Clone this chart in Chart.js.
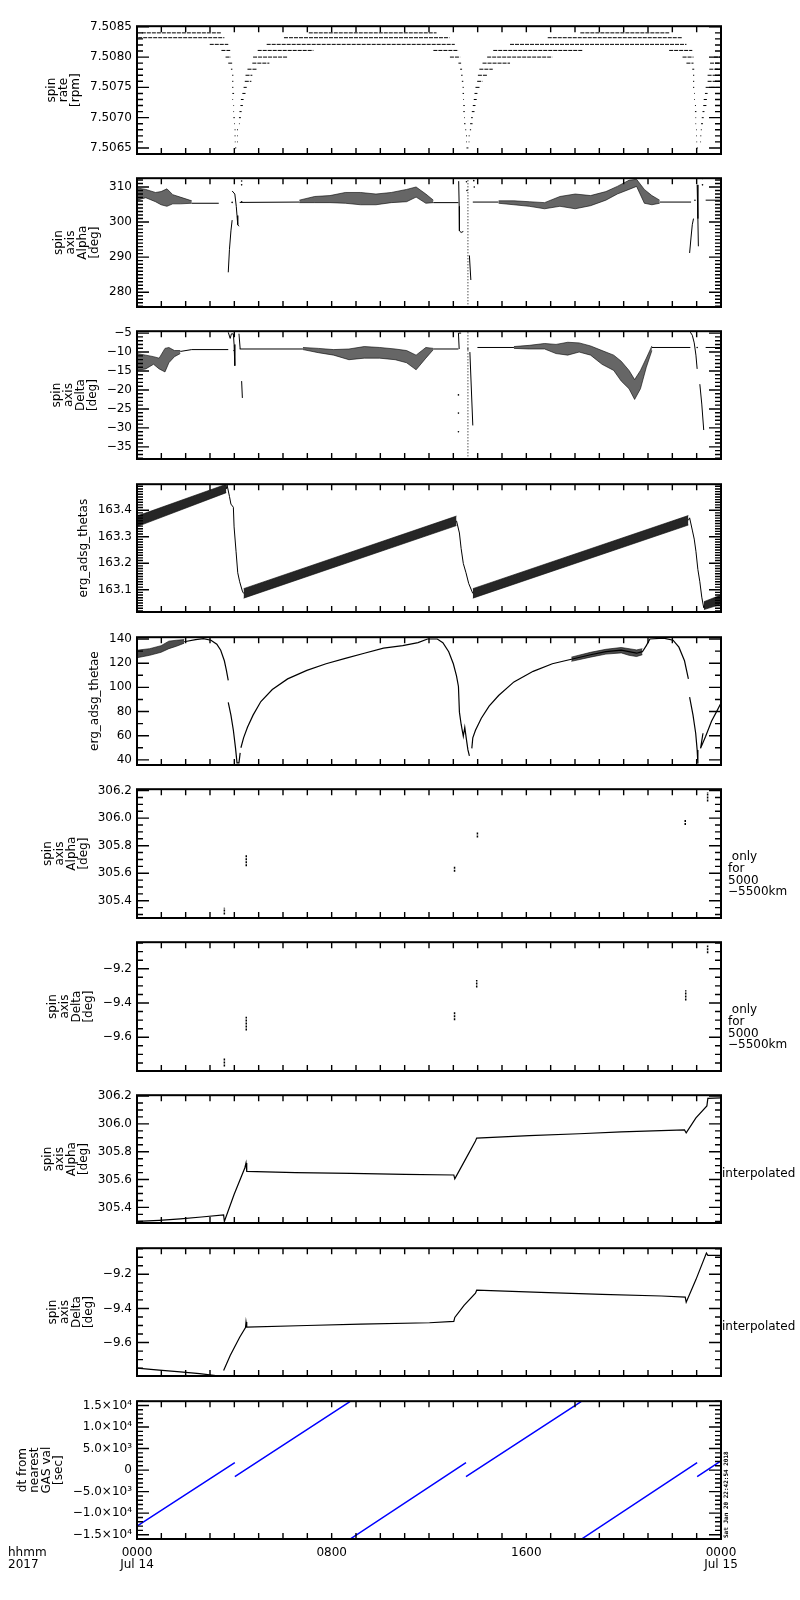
<!DOCTYPE html>
<html><head><meta charset="utf-8">
<script src="https://cdn.jsdelivr.net/npm/chart.js@4.4.1/dist/chart.umd.min.js"></script>
<style>
html,body{margin:0;padding:0;background:#fff;width:800px;height:1600px;overflow:hidden;position:relative;}
canvas{position:absolute;left:0;}
</style></head><body>
<script>
// ---------------- DATA ----------------
const xTickHours = [0, 8, 16, 24];
const xTickLabels = [['0000', 'Jul 14'], '0800', '1600', ['0000', 'Jul 15']];

// Panel 1: spin rate [rpm] (quantised levels: [level, [[startHour, endHour], ...]])
const spinRateTicks = [7.5065, 7.5070, 7.5075, 7.5080, 7.5085];
const spinRateTickLabels = ['7.5065', '7.5070', '7.5075', '7.5080', '7.5085'];
const spinRateSegs = [
  [7.50840, [[0.2, 3.47], [7.06, 12.31], [18.22, 21.87]]],
  [7.50832, [[0.05, 3.59], [6.04, 12.84], [16.88, 22.39]]],
  [7.50821, [[2.99, 3.75], [5.33, 13.06], [15.33, 22.58]]],
  [7.50811, [[3.47, 3.83], [4.96, 7.25], [12.18, 13.21], [14.64, 18.3], [21.87, 22.82]]],
  [7.50800, [[3.64, 3.86], [4.77, 6.19], [12.86, 13.28], [14.39, 17.07], [22.42, 22.87], [23.71, 24]]],
  [7.50790, [[3.75, 3.91], [4.74, 5.44], [13.21, 13.32], [14.2, 15.33], [22.58, 22.87], [23.55, 24]]],
  [7.50780, [[3.86, 3.92], [4.54, 4.93], [13.28, 13.36], [14.07, 14.62], [22.82, 22.9], [23.52, 24]]],
  [7.50770, [[3.91, 3.96], [4.46, 4.74], [13.32, 13.38], [14.01, 14.39], [22.85, 22.9], [23.45, 24]]],
  [7.50760, [[3.91, 3.96], [4.43, 4.70], [13.35, 13.41], [13.98, 14.2], [22.85, 22.9], [23.45, 24]]],
  [7.50750, [[3.91, 3.96], [4.38, 4.51], [13.38, 13.43], [13.91, 14.10], [22.85, 22.9], [23.37, 24]]],
  [7.50740, [[3.92, 3.99], [4.33, 4.46], [13.38, 13.44], [13.87, 13.99], [22.9, 22.93], [23.34, 23.45]]],
  [7.50730, [[3.92, 3.95], [4.27, 4.38], [13.41, 13.44], [13.84, 13.96], [22.9, 22.93], [23.29, 23.42]]],
  [7.50720, [[3.96, 3.99], [4.25, 4.35], [13.41, 13.47], [13.80, 13.91], [22.93, 22.97], [23.27, 23.40]]],
  [7.50710, [[3.96, 3.99], [4.21, 4.30], [13.41, 13.47], [13.76, 13.87], [22.93, 22.99], [23.24, 23.32]]],
  [7.50700, [[3.96, 4.02], [4.19, 4.27], [13.44, 13.47], [13.73, 13.80], [22.95, 22.98], [23.21, 23.29]]],
  [7.50690, [[3.99, 4.02], [4.19, 4.22], [13.44, 13.5], [13.69, 13.79], [22.95, 22.98], [23.18, 23.26]]],
  [7.50680, [[4.01, 4.05], [4.11, 4.15], [13.49, 13.53], [13.68, 13.73], [22.98, 23.01], [23.17, 23.21]]],
  [7.50670, [[4.01, 4.05], [4.11, 4.14], [13.52, 13.56], [13.63, 13.67], [22.98, 23.01], [23.15, 23.19]]],
  [7.50660, [[4.02, 4.05], [4.11, 4.14], [13.53, 13.56], [13.63, 13.66], [22.99, 23.02], [23.15, 23.18]]],
  [7.50650, [[4.03, 4.08], [13.54, 13.62], [23.0, 23.05]]]
];

// Panel 2: spin axis Alpha [deg]
const alphaTicks = [280, 290, 300, 310];
const alphaTickLabels = ['280', '290', '300', '310'];
const alphaLineX = [2.25, 3.36, null, 3.75, 3.80, 3.86, 3.91, null, 3.91, 4.02, 4.08, 4.11, 4.14, 4.19, null,
  4.22, 6.67, null, 12.18, 13.21, null, 13.22, 13.24, 13.25, 13.32, 13.41, null, 13.66, 13.72, null,
  13.80, 14.86, null, 21.48, 22.77, null, 22.71, 22.77, 22.82, 22.87, null, 23.02, 23.05, 23.07, null, 23.37, 24];
const alphaLineY = [305.36, 305.36, null, 285.68, 292.24, 297.49, 300.55, null, 308.86, 307.99, 304.49, 301.86, 299.24, 298.8, null,
  305.6, 305.7, null, 305.54, 305.54, null, 311.66, 304.49, 297.49, 297.05, 297.31, null, 290.49, 283.49, null,
  305.7, 305.7, null, 305.7, 305.7, null, 291.19, 295.74, 299.24, 300.99, null, 310.6, 300.99, 293.1, null, 306.24, 306.24];
const alphaDashX = [13.6, 13.6];
const alphaDashY = [311.9, 276.05];
const alphaDotX = [4.30, 4.30, 4.30, 3.91, 13.54, 13.56, 13.84, 13.86, 22.93, 23.24, 23.24];
const alphaDotY = [311.7, 310.6, 305.8, 305.6, 311.5, 309.0, 311.8, 310.0, 306.2, 312.4, 310.6];
const alphaBandX = [
  [0, 0.36, 0.76, 0.99, 1.23, 1.47, 1.78, 2.25],
  [6.67, 7.30, 7.93, 8.56, 9.19, 9.82, 10.45, 11.08, 11.47, 11.87, 12.18],
  [14.86, 15.49, 16.12, 16.75, 17.38, 18.01, 18.64, 19.27, 19.74, 20.22, 20.53, 20.85, 21.16, 21.48]];
const alphaBandHi = [
  [309.74, 309.30, 308.43, 308.69, 309.48, 307.81, 307.11, 306.06],
  [306.24, 307.29, 307.55, 308.43, 308.43, 307.99, 308.43, 309.3, 310.0, 307.99, 306.24],
  [306.06, 306.06, 305.8, 305.54, 307.29, 307.99, 307.55, 308.69, 310.17, 311.92, 312.19, 309.3, 307.55, 306.24]];
const alphaBandLo = [
  [306.24, 306.94, 305.80, 304.93, 304.49, 305.19, 305.19, 305.36],
  [305.54, 305.54, 305.54, 305.36, 304.93, 304.93, 305.54, 305.80, 307.11, 305.36, 305.54],
  [305.36, 304.93, 304.49, 303.79, 304.49, 303.79, 304.66, 306.24, 307.99, 309.30, 310.17, 305.36, 304.93, 305.36]];

// Panel 3: spin axis Delta [deg]
const deltaTicks = [-35, -30, -25, -20, -15, -10, -5];
const deltaTickLabels = ['\u221235', '\u221230', '\u221225', '\u221220', '\u221215', '\u221210', '\u22125'];
const deltaLineX = [1.78, 2.25, 3.75, null, 3.75, 3.83, 3.88, 3.96, 3.99, 4.02, null, 4.19, 4.24, null, 4.30, 4.33, null,
  4.22, 6.82, null, 12.18, 13.21, null, 13.32, 13.21, 13.24, null, 13.68, 13.80, null, 13.99, 15.49, null,
  21.16, 22.74, null, 22.74, 22.82, 22.90, 22.97, 23.02, null, 23.13, 23.21, 23.29, null, 23.37, 24];
const deltaLineY = [-9.84, -9.35, -9.35, null, -4.8, -6.4, -5.2, -5.2, -8.0, -13.6, null, -5.16, -9.19, null, -17.66, -22.1, null,
  -9.19, -9.19, null, -9.19, -9.19, null, -5.0, -5.0, -9.19, null, -10.0, -29.35, null, -8.79, -8.79, null,
  -8.79, -8.79, null, -4.76, -5.56, -7.58, -10.81, -14.44, null, -18.47, -23.71, -30.56, null, -8.79, -8.79];
const deltaDashX = [13.6, 13.6];
const deltaDashY = [-4.8, -37.8];
const deltaDotX = [3.99, 13.21, 13.21, 13.21, 13.6, 23.02];
const deltaDotY = [-9.6, -21.3, -26.1, -31.0, -9.19, -8.79];
const deltaBandX = [
  [0, 0.36, 0.68, 0.91, 1.15, 1.31, 1.54, 1.78],
  [6.82, 7.45, 8.08, 8.71, 9.34, 9.97, 10.61, 11.08, 11.47, 11.87, 12.18],
  [15.49, 16.12, 16.75, 17.22, 17.70, 18.17, 18.64, 19.11, 19.59, 19.90, 20.22, 20.45, 20.69, 20.93, 21.16]];
const deltaBandHi = [
  [-10.40, -10.81, -11.21, -11.61, -9.03, -8.79, -9.60, -9.60],
  [-8.79, -9.03, -9.35, -9.19, -8.55, -8.79, -9.19, -9.6, -10.81, -8.79, -9.03],
  [-8.55, -8.23, -7.74, -7.98, -7.42, -7.58, -8.39, -9.6, -10.81, -12.42, -14.84, -17.26, -14.84, -11.61, -8.39]];
const deltaBandLo = [
  [-14.84, -14.44, -13.23, -14.44, -15.24, -12.82, -11.21, -10.40],
  [-9.35, -10.16, -10.81, -12.02, -11.61, -11.61, -12.02, -12.82, -14.68, -11.61, -9.35],
  [-9.03, -9.19, -9.19, -10.4, -10.81, -10.0, -10.81, -13.23, -14.84, -17.66, -19.68, -22.5, -19.68, -14.03, -9.6]];

// Panel 4: erg_adsg_thetas
const thetasTicks = [163.1, 163.2, 163.3, 163.4];
const thetasTickLabels = ['163.1', '163.2', '163.3', '163.4'];
const thetasBandX = [[0, 3.67], [4.38, 13.13], [13.8, 22.66], [23.3, 24]];
const thetasBandLo = [[163.338, 163.466], [163.068, 163.342], [163.068, 163.344], [163.025, 163.045]];
const thetasBandHi = [[163.378, 163.498], [163.104, 163.378], [163.104, 163.380], [163.055, 163.080]];
const thetasLineX = [3.67, 3.70, 3.80, 3.86, 3.96, 3.99, 4.07, 4.14, 4.22, 4.33, 4.38, null,
  13.13, 13.25, 13.32, 13.41, 13.52, 13.63, 13.76, 13.80, null,
  22.66, 22.71, 22.82, 22.90, 22.97, 23.05, 23.13, 23.21, 23.29, 23.30];
const thetasLineY = [163.48, 163.495, 163.452, 163.423, 163.411, 163.337, 163.245, 163.164, 163.130, 163.095, 163.086, null,
  163.36, 163.314, 163.256, 163.199, 163.164, 163.124, 163.095, 163.086, null,
  163.362, 163.371, 163.325, 163.291, 163.245, 163.176, 163.130, 163.072, 163.032, 163.04];

// Panel 5: erg_adsg_thetae
const thetaeTicks = [40, 60, 80, 100, 120, 140];
const thetaeTickLabels = ['40', '60', '80', '100', '120', '140'];
const thetaeBandX = [[0, 0.52, 0.99, 1.31, 1.62, 1.94], [17.85, 18.64, 19.27, 19.9, 20.22, 20.53, 20.77]];
const thetaeBandHi = [[130.75, 132, 134.5, 138.25, 139, 139.5], [125, 129, 131.5, 133, 132, 131, 132]];
const thetaeBandLo = [[124.5, 126.5, 129, 132, 134, 136.5], [121.5, 125, 127.5, 128.5, 126.5, 125.5, 127]];
const thetaeLineX = [1.94, 2.41, 2.73, 3.04, 3.28, 3.44, 3.59, 3.67, 3.75, null,
  3.75, 3.86, 3.96, 4.05, 4.11, 4.19, 4.24, null,
  4.27, 4.38, 4.54, 4.77, 5.09, 5.56, 6.19, 6.98, 7.77, 8.56, 9.34, 10.13, 10.92, 11.55, 11.94, 12.34, 12.57, 12.81, 13.0, 13.13, 13.21,
  13.25, 13.32, 13.41, 13.47, 13.53, 13.6, 13.66, null,
  13.76, 13.8, 13.91, 14.15, 14.47, 14.86, 15.49, 16.28, 17.07, 17.85, 18.64, 19.27, 19.9, 20.22, 20.53, 20.77, 20.93, 21.08, 21.64, 22.03, 22.27, 22.5, 22.66, null,
  22.71, 22.85, 22.96, 23.02, 23.05, null, 23.16, 23.26, null, 23.16, 23.37, 23.61, 23.84, 24];
const thetaeLineY = [137.75, 139.5, 140.25, 139, 135.75, 130.75, 122, 114.5, 105.75, null,
  87.5, 77, 64.5, 49.5, 37.5, 37.5, 45.75, null,
  50, 58.25, 67, 77, 88.25, 98.25, 107, 114, 119.5, 124, 128.25, 132.5, 134.5, 137, 140, 140, 137, 129.5, 119.5, 109.5, 100.75,
  79.5, 69.5, 59.5, 67, 58, 48.25, 43.25, null,
  49.5, 58.25, 64.5, 74.5, 84.5, 93.25, 104.5, 113.25, 119.5, 123.25, 127, 129.5, 130.75, 129.5, 128.25, 129.5, 134.5, 140, 140.75, 139, 133.25, 122, 107, null,
  92, 77, 62, 48.25, 37, null, 49.5, 62, null, 49.5, 59.5, 72, 80.75, 87];

// Panel 6: spin axis Alpha, only for 5000-5500 km (vertical clusters)
const alphaDegTicks = [305.4, 305.6, 305.8, 306.0, 306.2];
const alphaDegTickLabels = ['305.4', '305.6', '305.8', '306.0', '306.2'];
const alphaOnlyX = [3.59, 4.49, 13.05, 13.99, 22.53, 23.45];
const alphaOnlyLo = [305.30, 305.65, 305.61, 305.86, 305.95, 306.12];
const alphaOnlyHi = [305.35, 305.73, 305.65, 305.90, 305.99, 306.19];

// Panel 7: spin axis Delta, only for 5000-5500 km
const deltaDegTicks = [-9.6, -9.4, -9.2];
const deltaDegTickLabels = ['\u22129.6', '\u22129.4', '\u22129.2'];
const deltaOnlyX = [3.59, 4.49, 13.05, 13.96, 22.55, 23.45];
const deltaOnlyLo = [-9.77, -9.56, -9.50, -9.31, -9.385, -9.11];
const deltaOnlyHi = [-9.72, -9.48, -9.45, -9.265, -9.325, -9.064];

// Panel 8: spin axis Alpha, interpolated
const alphaInterpX = [0, 0.91, 1.78, 2.65, 3.56, 3.59, 3.99, 4.43, 4.48, 4.51, 6.51, 8.79, 11.0, 13.02, 13.06, 13.52, 13.91, 13.96,
  16.12, 18.17, 19.9, 22.5, 22.57, 22.97, 23.42, 23.46, 24];
const alphaInterpY = [305.299, 305.307, 305.318, 305.331, 305.346, 305.299, 305.493, 305.683, 305.719, 305.659, 305.650, 305.644, 305.637, 305.633, 305.605, 305.752, 305.877, 305.898,
  305.916, 305.929, 305.942, 305.957, 305.935, 306.043, 306.129, 306.183, 306.187];

// Panel 9: spin axis Delta, interpolated
const deltaInterpX = [0, 0.91, 1.78, 2.57, 3.32, null, 3.56, 3.83, 4.22, 4.46, 4.48, 4.51, 6.98, 9.19, 12.02, 13.02, 13.06, 13.44, 13.91, 13.96,
  16.59, 19.11, 21.56, 22.53, 22.57, 22.97, 23.40, 23.46, 24];
const deltaInterpY = [-9.750, -9.761, -9.772, -9.782, -9.795, null, -9.764, -9.676, -9.569, -9.512, -9.48, -9.510, -9.50, -9.492, -9.484, -9.476, -9.453, -9.382, -9.311, -9.293,
  -9.306, -9.318, -9.327, -9.334, -9.364, -9.231, -9.075, -9.089, -9.089];

// Panel 10: dt from nearest GAS val [sec]
const dtTicks = [-15000, -10000, -5000, 0, 5000, 10000, 15000];
const dtTickLabels = ['\u22121.5\u00d710\u2074', '\u22121.0\u00d710\u2074', '\u22125.0\u00d710\u00b3', '0', '5.0\u00d710\u00b3', '1.0\u00d710\u2074', '1.5\u00d710\u2074'];
const dtX = [0, 4.02, null, 4.02, 8.75, null, 8.79, 13.52, null, 13.52, 18.25, null, 18.3, 23.02, null, 23.02, 24];
const dtY = [-13030, 1742, null, -1515, 15900, null, -15900, 1742, null, -1515, 15900, null, -15900, 1742, null, -1515, 2120];

// ---------------- HELPERS ----------------
const FONT = '"DejaVu Sans", sans-serif';
function pts(xs, ys) {
  return xs.map((x, i) => (x === null ? { x: xs[i - 1], y: null } : { x: x, y: ys[i] }));
}
function lineDs(xs, ys, extra) {
  return Object.assign({ data: pts(xs, ys), showLine: true, borderColor: '#000', borderWidth: 1,
    pointRadius: 0, fill: false, spanGaps: false }, extra || {});
}
function bandDs(xs, lo, hi, alpha) {
  return [lineDs(xs, lo, { borderWidth: 0.6 }),
          lineDs(xs, hi, { borderWidth: 0.6, fill: '-1', backgroundColor: 'rgba(0,0,0,' + alpha + ')' })];
}
function bandsDs(X, LO, HI, alpha) {
  let out = [];
  X.forEach((x, i) => { out = out.concat(bandDs(x, LO[i], HI[i], alpha)); });
  return out;
}
function dotDs(xs, ys) {
  return { data: pts(xs, ys), showLine: false, pointRadius: 0.8, pointBackgroundColor: '#000', pointBorderWidth: 0 };
}
function clusterDs(xs, lo, hi) {
  const d = [];
  xs.forEach((x, i) => { d.push({ x: x, y: lo[i] }, { x: x, y: hi[i] }, { x: x, y: null }); });
  return { data: d, showLine: true, borderColor: '#000', borderWidth: 1.5, borderDash: [2, 1], pointRadius: 0, spanGaps: false };
}
function spinDs() {
  const d = [];
  spinRateSegs.forEach(([lvl, segs]) => segs.forEach(([a, b]) => { d.push({ x: a, y: lvl }, { x: b, y: lvl }, { x: b, y: null }); }));
  return { data: d, showLine: true, borderColor: '#000', borderWidth: 1, borderDash: [4, 1], pointRadius: 0, spanGaps: false };
}

const deco = {
  id: 'panelDeco',
  afterDraw(chart, args, o) {
    const { ctx, chartArea: a, scales } = chart;
    const xs = scales.x, ys = scales.y;
    ctx.save();
    ctx.strokeStyle = '#000';
    ctx.lineWidth = 1.4;
    ctx.beginPath();
    const tickY = (v, len) => {
      const p = ys.getPixelForValue(v);
      ctx.moveTo(a.left, p); ctx.lineTo(a.left + len, p);
      ctx.moveTo(a.right, p); ctx.lineTo(a.right - len, p);
    };
    o.major.forEach(v => { if (v >= ys.min && v <= ys.max) tickY(v, 12); });
    const k0 = Math.ceil(ys.min / o.minorStep - 1e-6), k1 = Math.floor(ys.max / o.minorStep + 1e-6);
    for (let k = k0; k <= k1; k++) tickY(k * o.minorStep, 6);
    for (let h = 0; h <= 24; h++) {
      const p = xs.getPixelForValue(h);
      ctx.moveTo(p, a.top); ctx.lineTo(p, a.top + 6);
      ctx.moveTo(p, a.bottom); ctx.lineTo(p, a.bottom - 6);
    }
    ctx.stroke();
    ctx.lineWidth = 2;
    ctx.strokeRect(a.left, a.top, a.right - a.left, a.bottom - a.top);
    // axis title (rotated)
    ctx.fillStyle = '#000';
    ctx.font = '12px ' + FONT;
    const maxW = Math.max.apply(null, o.labels.map(s => ctx.measureText(s).width));
    const rightEdge = a.left - 5 - maxW - 8;
    const n = o.title.length, cy = (a.top + a.bottom) / 2;
    ctx.textAlign = 'center'; ctx.textBaseline = 'middle';
    o.title.forEach((line, i) => {
      const cx = rightEdge - 6 - (n - 1 - i) * 12;
      ctx.save(); ctx.translate(cx, cy); ctx.rotate(-Math.PI / 2); ctx.fillText(line, 0, 0); ctx.restore();
    });
    // right-hand notes
    ctx.textAlign = 'left';
    if (o.note === 'only') {
      [' only', 'for', '5000', '\u22125500km'].forEach((s, i) => ctx.fillText(s, a.right + 7, a.top + 68 + i * 11.6));
    } else if (o.note === 'interp') {
      ctx.fillText('interpolated', a.right + 1, a.top + 79);
    }
    if (o.last) {
      ctx.fillText('hhmm', 8, a.bottom + 14);
      ctx.fillText('2017', 8, a.bottom + 26);
      ctx.save();
      ctx.font = 'bold 6px "DejaVu Sans Mono", monospace';
      ctx.translate(a.right + 5, a.bottom - 1); ctx.rotate(-Math.PI / 2);
      ctx.textAlign = 'left';
      ctx.fillText('Sat Jan 20 22:42:54 2018', 0, 0);
      ctx.restore();
    }
    ctx.restore();
  }
};

const panels = [
  { top: 24, bottom: 164, min: 7.5064, max: 7.50851, major: spinRateTicks, labels: spinRateTickLabels, minorStep: 0.0001,
    title: ['spin', 'rate', '[rpm]'], ds: () => [spinDs()] },
  { top: 176, bottom: 317, min: 275.8, max: 312.5, major: alphaTicks, labels: alphaTickLabels, minorStep: 1,
    title: ['spin', 'axis', 'Alpha', '[deg]'],
    ds: () => bandsDs(alphaBandX, alphaBandLo, alphaBandHi, 0.6).concat([lineDs(alphaLineX, alphaLineY),
      lineDs(alphaDashX, alphaDashY, { borderDash: [1, 2] }), dotDs(alphaDotX, alphaDotY)]) },
  { top: 329, bottom: 469, min: -38.2, max: -4.5, major: deltaTicks, labels: deltaTickLabels, minorStep: 1,
    title: ['spin', 'axis', 'Delta', '[deg]'],
    ds: () => bandsDs(deltaBandX, deltaBandLo, deltaBandHi, 0.6).concat([lineDs(deltaLineX, deltaLineY),
      lineDs(deltaDashX, deltaDashY, { borderDash: [1, 2] }), dotDs(deltaDotX, deltaDotY)]) },
  { top: 482, bottom: 622, min: 163.016, max: 163.498, major: thetasTicks, labels: thetasTickLabels, minorStep: 0.01,
    title: ['erg_adsg_thetas'],
    ds: () => bandsDs(thetasBandX, thetasBandLo, thetasBandHi, 0.85).concat([lineDs(thetasLineX, thetasLineY)]) },
  { top: 635, bottom: 775, min: 35.75, max: 141.5, major: thetaeTicks, labels: thetaeTickLabels, minorStep: 10,
    title: ['erg_adsg_thetae'],
    ds: () => bandsDs(thetaeBandX, thetaeBandLo, thetaeBandHi, 0.7).concat([lineDs(thetaeLineX, thetaeLineY, { borderWidth: 1.2 })]) },
  { top: 787, bottom: 928, min: 305.275, max: 306.21, major: alphaDegTicks, labels: alphaDegTickLabels, minorStep: 0.05,
    title: ['spin', 'axis', 'Alpha', '[deg]'], note: 'only', ds: () => [clusterDs(alphaOnlyX, alphaOnlyLo, alphaOnlyHi)] },
  { top: 940, bottom: 1081, min: -9.797, max: -9.045, major: deltaDegTicks, labels: deltaDegTickLabels, minorStep: 0.05,
    title: ['spin', 'axis', 'Delta', '[deg]'], note: 'only', ds: () => [clusterDs(deltaOnlyX, deltaOnlyLo, deltaOnlyHi)] },
  { top: 1093, bottom: 1233, min: 305.288, max: 306.206, major: alphaDegTicks, labels: alphaDegTickLabels, minorStep: 0.05,
    title: ['spin', 'axis', 'Alpha', '[deg]'], note: 'interp', ds: () => [lineDs(alphaInterpX, alphaInterpY, { borderWidth: 1.2 })] },
  { top: 1246, bottom: 1386, min: -9.796, max: -9.047, major: deltaDegTicks, labels: deltaDegTickLabels, minorStep: 0.05,
    title: ['spin', 'axis', 'Delta', '[deg]'], note: 'interp', ds: () => [lineDs(deltaInterpX, deltaInterpY, { borderWidth: 1.2 })] },
  { top: 1399, bottom: 1539, min: -16000, max: 16000, major: dtTicks, labels: dtTickLabels, minorStep: 1000,
    title: ['dt from', 'nearest', 'GAS val', '[sec]'], last: true,
    ds: () => [lineDs(dtX, dtY, { borderColor: '#0000ff', borderWidth: 1.5 })] }
];

panels.forEach(p => {
  const cv = document.createElement('canvas');
  const padT = 10;
  const cTop = p.top - padT;
  const h = p.last ? 1600 - cTop : (p.bottom - p.top) + 20;
  cv.width = 800; cv.height = h;
  cv.style.top = cTop + 'px'; cv.style.width = '800px'; cv.style.height = h + 'px';
  document.body.appendChild(cv);
  const xAxisH = h - padT - (p.bottom - p.top);
  new Chart(cv.getContext('2d'), {
    type: 'scatter',
    data: { datasets: p.ds() },
    plugins: [deco],
    options: {
      responsive: false, animation: false, devicePixelRatio: 1,
      layout: { padding: { left: 0, right: 79, top: padT, bottom: p.last ? 0 : 10 } },
      plugins: { legend: { display: false }, tooltip: { enabled: false },
        panelDeco: { major: p.major, labels: p.labels, minorStep: p.minorStep, title: p.title, note: p.note, last: !!p.last } },
      scales: {
        x: {
          type: 'linear', min: 0, max: 24, display: !!p.last, position: 'bottom',
          afterBuildTicks: s => { s.ticks = xTickHours.map(v => ({ value: v })); },
          afterFit: s => { s.height = xAxisH; },
          ticks: { callback: (v, i) => xTickLabels[i], autoSkip: false, maxRotation: 0, minRotation: 0, padding: 8,
            color: '#000', font: { family: FONT, size: 12, lineHeight: 1.0 } },
          grid: { display: false, drawTicks: false }, border: { display: false }
        },
        y: {
          type: 'linear', min: p.min, max: p.max, position: 'left',
          afterBuildTicks: s => { s.ticks = p.major.map(v => ({ value: v })); },
          afterFit: s => { s.width = 137; },
          ticks: { callback: (v, i) => p.labels[i], autoSkip: false, padding: 5, color: '#000',
            font: { family: FONT, size: 12 } },
          grid: { display: false, drawTicks: false }, border: { display: false }
        }
      }
    }
  });
});
</script>
</body></html>
